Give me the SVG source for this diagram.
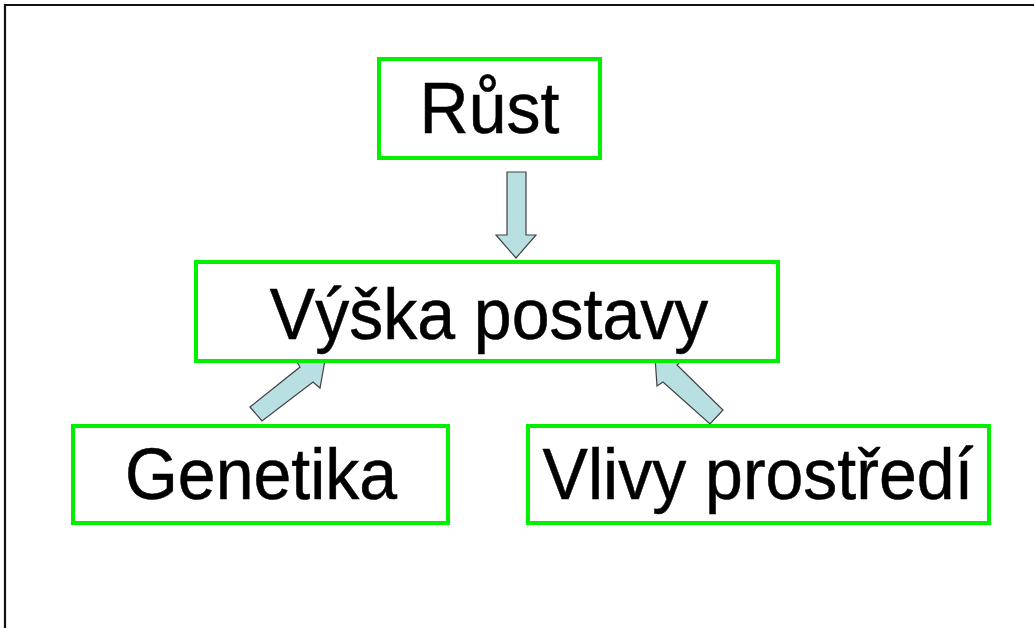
<svg xmlns="http://www.w3.org/2000/svg" width="1034" height="628" viewBox="0 0 1034 628">
<style>
.box{fill:#fff;stroke:#00f000;stroke-width:4}
.lbl{font-family:"Liberation Sans",Arial,sans-serif;font-size:68px;fill:#000;stroke:#000;stroke-width:0.5;text-anchor:middle}
.arr{fill:#b8dfe2;stroke:#404040;stroke-width:1.2;stroke-linejoin:miter}
</style>
<rect width="1034" height="628" fill="#fff"/>
<path d="M5,628 V5 H1034" fill="none" stroke="#111" stroke-width="2.2"/>
<g id="connectors">
<polygon class="arr" points="507,172 526,172 526,235 536,235 516,258 496,235 507,235"/>
<polygon class="arr" points="250,407 300,367 295,359 325,360 320,388 313,382 262,421"/>
<polygon class="arr" points="655,357 683,359 677,365 723,410 710,424 663,382 657,386"/>
</g>
<g id="rust">
<rect class="box" x="379" y="59" width="221" height="99"/>
<text class="lbl" transform="translate(489.5,133) scale(1,1.05)">Růst</text>
</g>
<g id="vyska">
<rect class="box" x="196" y="262" width="582" height="99"/>
<text class="lbl" transform="translate(489,339) scale(1,1.05)">Výška postavy</text>
</g>
<g id="genetika">
<rect class="box" x="73" y="426" width="375" height="97"/>
<text class="lbl" transform="translate(261,499) scale(1,1.05)">Genetika</text>
</g>
<g id="vlivy">
<rect class="box" x="528" y="426" width="461" height="97"/>
<text class="lbl" transform="translate(758,499) scale(1,1.05)">Vlivy prostředí</text>
</g>
</svg>
